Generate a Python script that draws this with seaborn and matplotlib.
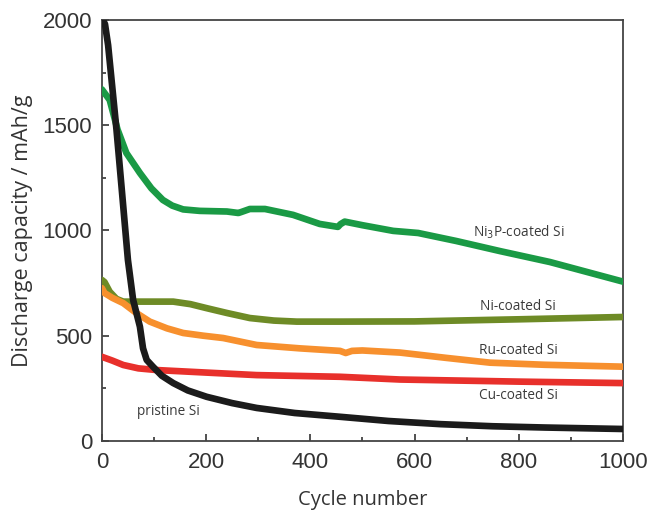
import pandas as pd
import seaborn as sns
import matplotlib.pyplot as plt

# Curves (cycle number, capacity in mAh/g)
pristine_cycle = [0, 6, 12, 20, 28, 38, 50, 60, 73, 79, 86, 98, 115, 137, 165, 201, 250, 297, 370, 457, 550, 650, 750, 850, 1000]
pristine_cap = [2010, 1980, 1880, 1680, 1480, 1200, 860, 670, 543, 440, 385, 353, 310, 275, 240, 210, 180, 157, 133, 115, 95, 80, 70, 64, 57]

ni3p_cycle = [0, 15, 30, 47, 73, 95, 117, 135, 156, 188, 240, 262, 268, 284, 313, 367, 418, 453, 458, 466, 500, 559, 607, 680, 764, 860, 1000]
ni3p_cap = [1670, 1620, 1480, 1368, 1273, 1200, 1145, 1118, 1100, 1093, 1090, 1083, 1088, 1102, 1102, 1074, 1031, 1017, 1030, 1042, 1025, 998, 988, 950, 902, 850, 757]

ni_cycle = [0, 5, 15, 28, 41, 90, 137, 170, 201, 240, 284, 330, 374, 457, 600, 800, 1000]
ni_cap = [765, 755, 709, 675, 662, 662, 662, 650, 631, 608, 584, 572, 567, 567, 568, 578, 589]

ru_cycle = [0, 5, 20, 41, 65, 92, 125, 156, 195, 233, 297, 380, 457, 468, 480, 500, 572, 660, 745, 850, 1000]
ru_cap = [726, 703, 680, 655, 610, 567, 535, 513, 500, 489, 456, 440, 428, 418, 428, 430, 420, 395, 372, 362, 353]

cu_cycle = [0, 20, 41, 70, 105, 200, 297, 457, 572, 800, 1000]
cu_cap = [400, 382, 361, 345, 337, 325, 313, 305, 292, 282, 275]

series_names = ["pristine Si", "Ni3P-coated Si", "Ni-coated Si", "Ru-coated Si", "Cu-coated Si"]
series_colors = ["#1b1b1b", "#1a9a45", "#6e8b26", "#f7902e", "#e8302b"]

frames = []
for name, cyc, cap in zip(series_names,
                          [pristine_cycle, ni3p_cycle, ni_cycle, ru_cycle, cu_cycle],
                          [pristine_cap, ni3p_cap, ni_cap, ru_cap, cu_cap]):
    frames.append(pd.DataFrame({"cycle": cyc, "capacity": cap, "sample": name}))
data = pd.concat(frames, ignore_index=True)

sns.set_style("ticks")
plt.rcParams["font.family"] = ["Liberation Sans", "DejaVu Sans"]

fig = plt.figure(figsize=(6.53, 5.11), dpi=100)
ax = fig.add_axes([0.156, 0.137, 0.798, 0.824])

line_kw = dict(linewidth=4.8, solid_capstyle="round", solid_joinstyle="round")
sns.lineplot(data=data[data["sample"] != "pristine Si"], x="cycle", y="capacity",
             hue="sample", hue_order=series_names[1:],
             palette=dict(zip(series_names, series_colors)),
             legend=False, ax=ax, sort=False, zorder=3, **line_kw)
# black line drawn last so it stays on top at the steep drop
sns.lineplot(data=data[data["sample"] == "pristine Si"], x="cycle", y="capacity",
             color=series_colors[0], ax=ax, sort=False, zorder=4, **line_kw)

ax.set_xlim(0, 1000)
ax.set_ylim(0, 2000)
ax.set_xticks([0, 200, 400, 600, 800, 1000])
ax.set_yticks([0, 500, 1000, 1500, 2000])
ax.set_xticks(range(100, 1000, 200), minor=True)
ax.set_yticks([250, 750, 1250, 1750], minor=True)
ax.tick_params(axis="both", which="both", direction="in", colors="#333333",
               labelsize=16, width=1.2)
ax.tick_params(which="major", length=5)
ax.tick_params(which="minor", length=3)
ax.tick_params(axis="x", which="major", pad=8)
ax.tick_params(axis="y", which="major", pad=7)
for spine in ax.spines.values():
    spine.set_color("#444444")
    spine.set_linewidth(1.3)

label_font = ["Open Sans", "DejaVu Sans"]
ax.set_xlabel("Cycle number", fontsize=14.5, family=label_font, color="#333333", labelpad=12)
ax.set_ylabel("Discharge capacity / mAh/g", fontsize=15.5, family=label_font,
              color="#333333", labelpad=7)

txt = dict(fontsize=9.8, family=label_font, color="#3a3a3a", ha="center", va="center")
ax.text(800, 993, "Ni$_3$P-coated Si", **txt)
ax.text(799, 641, "Ni-coated Si", **txt)
ax.text(799, 432, "Ru-coated Si", **txt)
ax.text(799, 214, "Cu-coated Si", **txt)
ax.text(128, 138, "pristine Si", **txt)

fig.savefig("out.png", dpi=100)
